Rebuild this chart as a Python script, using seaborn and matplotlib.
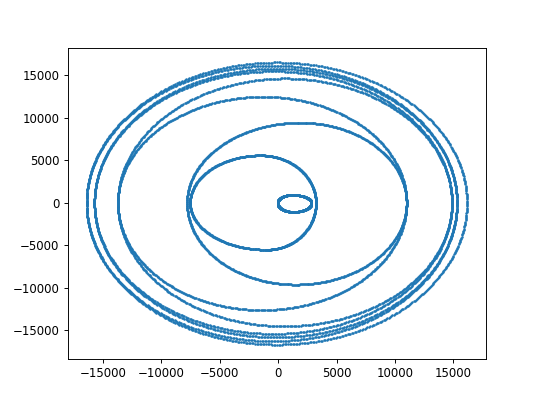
import numpy as np
import pandas as pd
import matplotlib
matplotlib.use("Agg")
import matplotlib.pyplot as plt
import seaborn as sns

# Extremes of each revolution of the trajectory (data units)
orbit_left = [-7540, -7800, -13720, -13720, -15730, -15730, -16400, -16400]
orbit_right = [3230, 10990, 10990, 14870, 14870, 15300, 15300, 16160]
orbit_top = [5600, 9450, 12500, 14650, 15500, 15800, 16150, 16530]
orbit_bottom = [-5500, -9600, -12600, -14500, -15400, -15800, -16250, -16660]
orbit_top_x = [-1500, 1900, -1300, 600, -400, -200, -500, -100]
orbit_bottom_x = [-1000, 1500, -1400, 500, -400, -200, -500, -100]

# Small starting loop
loop_left = [-50]
loop_right = [2850]
loop_top = [950]
loop_bottom = [-1050]
loop_top_x = [1200]
loop_bottom_x = [1300]

pts_per_rev = 760


def revolution(L, R, T, B, xt, xb, n):
    th = np.linspace(0, 2 * np.pi, n, endpoint=False)
    c, s = np.cos(th), np.sin(th)
    upper = s >= 0
    xc = np.where(upper, xt, xb)
    ax_r = np.where(c >= 0, R - xc, xc - L)
    x = xc + ax_r * c
    y = np.where(upper, T * s, -B * s)
    return x, y


xs, ys = [], []
for L, R, T, B, xt, xb in zip(loop_left + orbit_left, loop_right + orbit_right,
                              loop_top + orbit_top, loop_bottom + orbit_bottom,
                              loop_top_x + orbit_top_x, loop_bottom_x + orbit_bottom_x):
    x, y = revolution(L, R, T, B, xt, xb, pts_per_rev)
    xs.append(x)
    ys.append(y)

df = pd.DataFrame({"x": np.concatenate(xs), "y": np.concatenate(ys)})

fig = plt.figure(figsize=(6.4, 403 / 84.375), dpi=84.375)
ax = fig.add_subplot(111)
sns.scatterplot(data=df, x="x", y="y", s=4.5, linewidth=0, color="#1f77b4", ax=ax)
ax.set_xlabel("")
ax.set_ylabel("")
fig.savefig("out.png", dpi=84.375)
